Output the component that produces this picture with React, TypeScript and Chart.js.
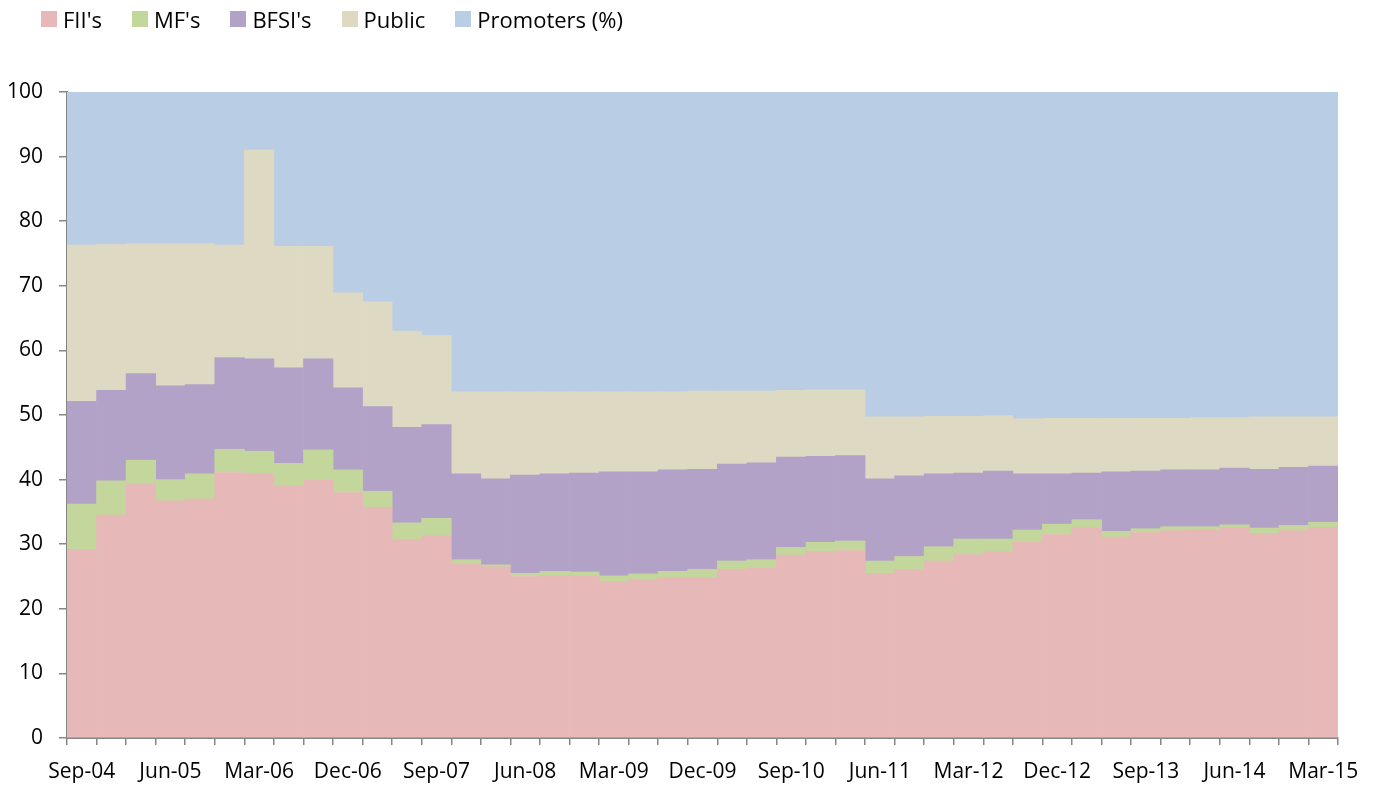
import React, { useEffect, useRef } from "react";
import { Chart, registerables } from "chart.js";

Chart.register(...registerables);

const quarters = [
  "Sep-04", "Dec-04", "Mar-05", "Jun-05", "Sep-05", "Dec-05", "Mar-06", "Jun-06", "Sep-06", "Dec-06",
  "Mar-07", "Jun-07", "Sep-07", "Dec-07", "Mar-08", "Jun-08", "Sep-08", "Dec-08", "Mar-09", "Jun-09",
  "Sep-09", "Dec-09", "Mar-10", "Jun-10", "Sep-10", "Dec-10", "Mar-11", "Jun-11", "Sep-11", "Dec-11",
  "Mar-12", "Jun-12", "Sep-12", "Dec-12", "Mar-13", "Jun-13", "Sep-13", "Dec-13", "Mar-14", "Jun-14",
  "Sep-14", "Dec-14", "Mar-15",
];

const fii = [
  29.2, 34.5, 39.3, 36.7, 37.0, 41.1, 40.9, 39.0, 39.9, 38.0, 35.7, 30.7, 31.3,
  26.9, 26.5, 25.0, 25.2, 25.1, 24.2, 24.5, 24.8, 24.8, 26.1, 26.4, 28.3, 28.9, 29.0,
  25.5, 26.1, 27.4, 28.4, 28.8, 30.3, 31.5, 32.5, 31.1, 31.8, 32.1, 32.2, 32.6, 31.7, 32.1, 32.6,
];
const mf = [
  7.0, 5.3, 3.7, 3.3, 3.9, 3.6, 3.5, 3.5, 4.7, 3.5, 2.5, 2.6, 2.7,
  0.7, 0.3, 0.5, 0.6, 0.6, 0.9, 0.9, 1.0, 1.3, 1.3, 1.2, 1.2, 1.4, 1.5,
  1.9, 2.0, 2.2, 2.4, 2.0, 1.9, 1.6, 1.3, 0.9, 0.6, 0.6, 0.5, 0.4, 0.8, 0.8, 0.8,
];
const bfsi = [
  15.9, 14.0, 13.4, 14.5, 13.8, 14.2, 14.3, 14.8, 14.1, 12.7, 13.1, 14.8, 14.5,
  13.3, 13.3, 15.2, 15.1, 15.3, 16.1, 15.8, 15.7, 15.5, 15.0, 15.0, 14.0, 13.3, 13.2,
  12.7, 12.5, 11.3, 10.2, 10.5, 8.7, 7.8, 7.2, 9.2, 8.9, 8.8, 8.8, 8.8, 9.1, 9.0, 8.7,
];
const publicHolding = [
  24.2, 22.6, 20.1, 22.0, 21.8, 17.4, 32.3, 18.8, 17.4, 14.7, 16.2, 14.9, 13.8,
  12.7, 13.5, 12.9, 12.7, 12.6, 12.4, 12.4, 12.1, 12.1, 11.3, 11.1, 10.3, 10.3, 10.2,
  9.6, 9.1, 8.9, 8.8, 8.6, 8.5, 8.6, 8.5, 8.3, 8.2, 8.0, 8.1, 7.8, 8.1, 7.8, 7.6,
];
const promoters = [
  23.7, 23.6, 23.5, 23.5, 23.5, 23.7, 9.0, 23.9, 23.9, 31.1, 32.5, 37.0, 37.7,
  46.4, 46.4, 46.4, 46.4, 46.4, 46.4, 46.4, 46.4, 46.3, 46.3, 46.3, 46.2, 46.1, 46.1,
  50.3, 50.3, 50.2, 50.2, 50.1, 50.6, 50.5, 50.5, 50.5, 50.5, 50.5, 50.4, 50.4, 50.3, 50.3, 50.3,
];

const seriesNames = ["FII's", "MF's", "BFSI's", "Public", "Promoters (%)"];
const seriesColors = ["#E6B9B8", "#C3D69B", "#B3A2C7", "#DDD9C3", "#B9CDE5"];
const seriesValues = [fii, mf, bfsi, publicHolding, promoters];

const FONT = "'Open Sans', 'Noto Sans', sans-serif";
const AXIS_GREY = "#868686";

export default function App() {
  const canvasRef = useRef<HTMLCanvasElement | null>(null);

  useEffect(() => {
    if (!canvasRef.current) return;
    const chart = new Chart(canvasRef.current, {
      type: "bar",
      data: {
        labels: quarters,
        datasets: seriesValues.map((vals, i) => ({
          label: seriesNames[i],
          data: vals,
          backgroundColor: seriesColors[i],
          borderWidth: 0,
          barPercentage: 1,
          categoryPercentage: 1,
        })),
      },
      options: {
        animation: false,
        responsive: true,
        maintainAspectRatio: false,
        layout: { padding: { top: 92, right: 37, left: 0, bottom: 0 } },
        plugins: {
          legend: { display: false },
          tooltip: { enabled: false },
        },
        scales: {
          x: {
            stacked: true,
            afterFit: (scale: any) => {
              scale.height = 49;
            },
            grid: {
              offset: true,
              drawOnChartArea: false,
              drawTicks: true,
              tickLength: 7,
              color: AXIS_GREY,
              lineWidth: 1.5,
            },
            border: { display: true, color: AXIS_GREY, width: 2 },
            ticks: {
              autoSkip: false,
              maxRotation: 0,
              minRotation: 0,
              padding: 14,
              color: "#000",
              font: { family: FONT, size: 21 },
              callback: (_v: any, idx: number) => (idx % 3 === 0 ? quarters[idx] : ""),
            },
          },
          y: {
            stacked: true,
            min: 0,
            max: 100,
            afterFit: (scale: any) => {
              scale.width = 67;
            },
            grid: {
              drawOnChartArea: false,
              drawTicks: true,
              tickLength: 8,
              color: AXIS_GREY,
              lineWidth: 1.5,
            },
            border: { display: true, color: AXIS_GREY, width: 2 },
            ticks: {
              stepSize: 10,
              padding: 16,
              color: "#000",
              font: { family: FONT, size: 21 },
            },
          },
        },
      },
    });
    return () => chart.destroy();
  }, []);

  return (
    <div style={{ position: "absolute", left: 0, top: 0, width: 1375, height: 787, background: "#fff" }}>
      <canvas ref={canvasRef} />
      <div
        style={{
          position: "absolute",
          left: 41,
          top: 6,
          display: "flex",
          alignItems: "center",
          fontFamily: FONT,
          fontSize: 22,
          lineHeight: "26px",
          color: "#000",
          whiteSpace: "nowrap",
        }}
      >
        {seriesNames.map((name, i) => (
          <div key={name} style={{ display: "flex", alignItems: "center", marginRight: 30 }}>
            <span
              style={{
                display: "inline-block",
                width: 16,
                height: 16,
                background: seriesColors[i],
                marginRight: 6,
              }}
            />
            <span>{name}</span>
          </div>
        ))}
      </div>
    </div>
  );
}
